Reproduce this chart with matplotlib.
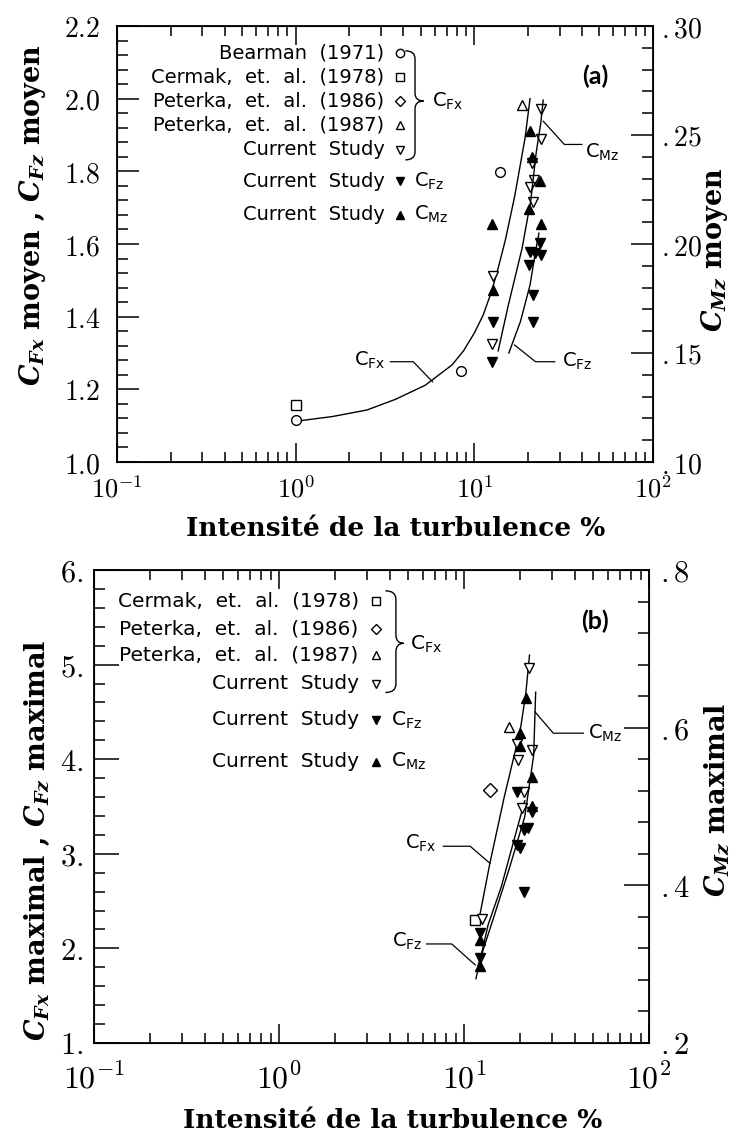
import numpy as np
import matplotlib
matplotlib.use('Agg')
import matplotlib.pyplot as plt
from matplotlib.ticker import MultipleLocator, LogLocator, FuncFormatter, NullFormatter
from matplotlib.path import Path
from matplotlib.patches import PathPatch

plt.rcParams['mathtext.fontset'] = 'cm'
plt.rcParams['font.family'] = ['DejaVu Sans']

# ---------------- panel (a) : valeurs moyennes ----------------
bearman_a_x = [1.0, 8.4, 13.9]
bearman_a_y = [1.115, 1.25, 1.797]
cermak_a_x = [1.0]
cermak_a_y = [1.158]
peterka87_a_x = [18.4]
peterka87_a_y = [1.982]
cfx_a_x = [23.6, 23.6, 20.9, 21.6, 20.5, 21.4, 12.8, 12.5]
cfx_a_y = [1.971, 1.888, 1.823, 1.776, 1.756, 1.716, 1.512, 1.325]
cfz_a_x = [23.3, 20.5, 21.8, 23.5, 20.3, 21.4, 21.4, 12.8, 12.6]
cfz_a_y = [1.603, 1.579, 1.575, 1.570, 1.542, 1.460, 1.386, 1.386, 1.276]
cmz_a_x = [20.5, 20.9, 23.3, 20.3, 12.5, 23.5, 12.8]
cmz_a_y = [0.252, 0.240, 0.229, 0.216, 0.209, 0.209, 0.179]

fit_cfx_a_x = [1.0, 1.6, 2.5, 3.6, 5.3, 7.5, 8.7, 10.0, 11.2, 12.5, 13.7, 14.9, 16.8, 19.2, 20.5]
fit_cfx_a_y = [1.112, 1.125, 1.143, 1.172, 1.211, 1.267, 1.306, 1.355, 1.404, 1.47, 1.54,
               1.61, 1.73, 1.89, 2.00]
fit_cfz_a_x = [15.6, 18.1, 20.5, 22.0, 23.0]
fit_cfz_a_y = [1.30, 1.386, 1.487, 1.579, 1.63]
fit_cmz_a_x = [13.6, 15.5, 18.5, 20.7, 22.2, 23.5, 24.3]
fit_cmz_a_y = [0.151, 0.172, 0.198, 0.220, 0.242, 0.255, 0.266]

# ---------------- panel (b) : valeurs maximales ----------------
cermak_b_x = [11.5]
cermak_b_y = [2.30]
peterka86_b_x = [13.8]
peterka86_b_y = [3.67]
peterka87_b_x = [17.4]
peterka87_b_y = [4.344]
cfx_b_x = [22.5, 19.3, 23.2, 19.7, 21.1, 20.5, 12.5]
cfx_b_y = [4.96, 4.161, 4.097, 3.992, 3.656, 3.481, 2.31]
cfz_b_x = [19.3, 23.2, 21.0, 22.2, 19.3, 20.1, 21.0, 12.2, 12.2]
cfz_b_y = [3.656, 3.445, 3.252, 3.27, 3.093, 3.058, 2.60, 2.160, 1.895]
cmz_b_x = [21.6, 20.1, 20.1, 23.2, 23.2, 12.2, 12.2]
cmz_b_y = [0.638, 0.593, 0.577, 0.538, 0.5005, 0.3305, 0.2975]

fit_cfx_b_x = [11.9, 13.8, 16.5, 19.0, 20.3, 21.6, 22.6]
fit_cfx_b_y = [2.25, 2.90, 3.60, 4.10, 4.35, 4.70, 5.10]
fit_cfz_b_x = [11.6, 13.5, 15.9, 18.9, 21.3]
fit_cfz_b_y = [1.68, 2.25, 2.65, 3.19, 3.56]
fit_cmz_b_x = [11.9, 14.5, 17.5, 21.3, 23.8, 24.4]
fit_cmz_b_y = [0.298, 0.36, 0.42, 0.487, 0.565, 0.645]

W, H = 747, 1135
fig = plt.figure(figsize=(W / 100, H / 100), dpi=100)
fig.patch.set_facecolor('white')

label_font = dict(fontfamily='DejaVu Serif', fontweight='bold', math_fontfamily='dejavuserif')


def log_x(ax, size, pad):
    ax.set_xscale('log')
    ax.set_xlim(0.1, 100)
    ax.xaxis.set_major_locator(LogLocator(base=10, numticks=10))
    ax.xaxis.set_minor_locator(LogLocator(base=10, subs=np.arange(2, 10), numticks=20))
    ax.xaxis.set_major_formatter(FuncFormatter(lambda v, p: r'$10^{%d}$' % round(np.log10(v))))
    ax.xaxis.set_minor_formatter(NullFormatter())
    ax.tick_params(axis='x', which='both', direction='in', top=True, bottom=True,
                   width=1.1, labelsize=size, pad=pad)
    ax.tick_params(axis='x', which='major', length=14)
    ax.tick_params(axis='x', which='minor', length=7)
    for s in ax.spines.values():
        s.set_linewidth(1.3)


def brace(ax, x_end, x_mid, x_tip, y_top, y_tip, y_bot, r=0.018):
    verts = [(x_end, y_top), (x_mid, y_top), (x_mid, y_top - r),
             (x_mid, y_tip + r), (x_mid, y_tip), (x_tip, y_tip),
             (x_tip, y_tip), (x_mid, y_tip), (x_mid, y_tip - r),
             (x_mid, y_bot + r), (x_mid, y_bot), (x_end, y_bot)]
    codes = [Path.MOVETO, Path.CURVE3, Path.CURVE3,
             Path.LINETO, Path.CURVE3, Path.CURVE3,
             Path.MOVETO, Path.CURVE3, Path.CURVE3,
             Path.LINETO, Path.CURVE3, Path.CURVE3]
    ax.add_patch(PathPatch(Path(verts, codes), transform=ax.transAxes, fill=False,
                           lw=1.0, clip_on=False))


def legend_row(ax, y, text, marker, filled, x_text, x_mark, fs, extra=None, x_extra=None):
    ax.text(x_text, y, text, transform=ax.transAxes, ha='right', va='center', fontsize=fs)
    ax.plot([x_mark], [y], marker=marker, ms=6 if marker != 'D' else 5.5, ls='none',
            mfc='black' if filled else 'white', mec='black', mew=1.0,
            transform=ax.transAxes, clip_on=False)
    if extra:
        ax.text(x_extra, y, extra, transform=ax.transAxes, ha='left', va='center', fontsize=fs)


open_kw = dict(ls='none', mfc='white', mec='black', mew=1.0)
fill_kw = dict(ls='none', mfc='black', mec='black', mew=1.0)

# ================= (a) =================
axA = fig.add_axes([117 / W, 1 - 462 / H, 536 / W, 436 / H])
axA2 = axA.twinx()
log_x(axA, 19, 11)
axA.set_ylim(1.0, 2.2)
axA.yaxis.set_major_locator(MultipleLocator(0.2))
axA.yaxis.set_minor_locator(MultipleLocator(0.04))
axA.yaxis.set_major_formatter(FuncFormatter(lambda v, p: r'$%.1f$' % v))
axA.tick_params(axis='y', which='both', direction='in', width=1.1, labelsize=20, pad=12)
axA.tick_params(axis='y', which='major', length=16)
axA.tick_params(axis='y', which='minor', length=8)
axA2.set_ylim(0.10, 0.30)
axA2.yaxis.set_major_locator(MultipleLocator(0.05))
axA2.yaxis.set_minor_locator(MultipleLocator(0.01))
axA2.yaxis.set_major_formatter(FuncFormatter(lambda v, p: r'$.%02d$' % round(v * 100)))
axA2.tick_params(axis='y', which='both', direction='in', width=1.1, labelsize=20, pad=6)
axA2.tick_params(axis='y', which='major', length=16)
axA2.tick_params(axis='y', which='minor', length=8)

axA.plot(fit_cfx_a_x, fit_cfx_a_y, 'k-', lw=1.0)
axA.plot(fit_cfz_a_x, fit_cfz_a_y, 'k-', lw=1.0)
axA2.plot(fit_cmz_a_x, fit_cmz_a_y, 'k-', lw=1.0)

axA.plot(bearman_a_x, bearman_a_y, 'o', ms=7, **open_kw)
axA.plot(cermak_a_x, cermak_a_y, 's', ms=6.5, **open_kw)
axA.plot(peterka87_a_x, peterka87_a_y, '^', ms=7, **open_kw)
axA.plot(cfx_a_x, cfx_a_y, 'v', ms=7, **open_kw)
axA.plot(cfz_a_x, cfz_a_y, 'v', ms=7, **fill_kw)
axA2.plot(cmz_a_x, cmz_a_y, '^', ms=7, **fill_kw)

# curve labels
axA.plot([3.39, 4.55, 5.83], [1.276, 1.276, 1.221], 'k-', lw=0.9)
axA.text(2.12, 1.28, r'$\mathregular{C_{Fx}}$', fontsize=14, va='center', ha='left')
axA.plot([16.8, 22.0, 28.2], [1.322, 1.276, 1.276], 'k-', lw=0.9)
axA.text(31.0, 1.278, r'$\mathregular{C_{Fz}}$', fontsize=14, va='center', ha='left')
axA.plot([24.3, 31.9, 40.0], [1.938, 1.874, 1.874], 'k-', lw=0.9)
axA.text(41.5, 1.851, r'$\mathregular{C_{Mz}}$', fontsize=14, va='center', ha='left')

# legend
fsA = 14
legend_row(axA, 0.939, 'Bearman  (1971)', 'o', False, 0.499, 0.528, fsA)
legend_row(axA, 0.883, 'Cermak,  et.  al.  (1978)', 's', False, 0.499, 0.528, fsA)
legend_row(axA, 0.828, 'Peterka,  et.  al.  (1986)', 'D', False, 0.499, 0.528, fsA)
legend_row(axA, 0.772, 'Peterka,  et.  al.  (1987)', '^', False, 0.499, 0.528, fsA)
legend_row(axA, 0.716, 'Current  Study', 'v', False, 0.499, 0.528, fsA)
legend_row(axA, 0.644, 'Current  Study', 'v', True, 0.499, 0.528, fsA,
           r'$\mathregular{C_{Fz}}$', 0.555)
legend_row(axA, 0.567, 'Current  Study', '^', True, 0.499, 0.528, fsA,
           r'$\mathregular{C_{Mz}}$', 0.555)
brace(axA, 0.538, 0.556, 0.572, 0.943, 0.828, 0.693)
axA.text(0.588, 0.828, r'$\mathregular{C_{Fx}}$', transform=axA.transAxes, fontsize=fsA,
         ha='left', va='center')
axA.text(0.892, 0.885, '(a)', transform=axA.transAxes, fontsize=18, fontweight='bold',
         fontfamily=['Lato', 'DejaVu Sans'], ha='center', va='center')

# ================= (b) =================
axB = fig.add_axes([94 / W, 1 - 1043 / H, 555 / W, 473 / H])
axB2 = axB.twinx()
log_x(axB, 23, 15)
axB.set_ylim(1.0, 6.0)
axB.yaxis.set_major_locator(MultipleLocator(1))
axB.yaxis.set_minor_locator(MultipleLocator(0.2))
axB.yaxis.set_major_formatter(FuncFormatter(lambda v, p: r'$%d.$' % round(v)))
axB.tick_params(axis='y', which='both', direction='in', width=1.1, labelsize=22, pad=8)
axB.tick_params(axis='y', which='major', length=18)
axB.tick_params(axis='y', which='minor', length=8)
axB2.set_ylim(0.2, 0.8)
axB2.yaxis.set_major_locator(MultipleLocator(0.2))
axB2.yaxis.set_minor_locator(MultipleLocator(0.04))
axB2.yaxis.set_major_formatter(FuncFormatter(lambda v, p: r'$.%d$' % round(v * 10)))
axB2.tick_params(axis='y', which='both', direction='in', width=1.1, labelsize=22, pad=8)
axB2.tick_params(axis='y', which='major', length=18)
axB2.tick_params(axis='y', which='minor', length=8)

axB.plot(fit_cfx_b_x, fit_cfx_b_y, 'k-', lw=1.0)
axB.plot(fit_cfz_b_x, fit_cfz_b_y, 'k-', lw=1.0)
axB2.plot(fit_cmz_b_x, fit_cmz_b_y, 'k-', lw=1.0)

axB.plot(cermak_b_x, cermak_b_y, 's', ms=6.5, **open_kw)
axB.plot(peterka86_b_x, peterka86_b_y, 'D', ms=7, **open_kw)
axB.plot(peterka87_b_x, peterka87_b_y, '^', ms=7, **open_kw)
axB.plot(cfx_b_x, cfx_b_y, 'v', ms=7, **open_kw)
axB.plot(cfz_b_x, cfz_b_y, 'v', ms=7, **fill_kw)
axB2.plot(cmz_b_x, cmz_b_y, '^', ms=7, **fill_kw)

axB.plot([7.73, 10.8, 13.8], [3.08, 3.08, 2.90], 'k-', lw=0.9)
axB.text(4.8, 3.11, r'$\mathregular{C_{Fx}}$', fontsize=14, va='center', ha='left')
axB.plot([6.28, 8.58, 11.5], [2.047, 2.047, 1.825], 'k-', lw=0.9)
axB.text(4.06, 2.07, r'$\mathregular{C_{Fz}}$', fontsize=14, va='center', ha='left')
axB2.plot([24.2, 30.4, 44.2], [0.620, 0.593, 0.593], 'k-', lw=0.9)
axB2.text(47.0, 0.593, r'$\mathregular{C_{Mz}}$', fontsize=14, va='center', ha='left')

fsB = 14.5
legend_row(axB, 0.934, 'Cermak,  et.  al.  (1978)', 's', False, 0.477, 0.508, fsB)
legend_row(axB, 0.876, 'Peterka,  et.  al.  (1986)', 'D', False, 0.477, 0.508, fsB)
legend_row(axB, 0.821, 'Peterka,  et.  al.  (1987)', '^', False, 0.477, 0.508, fsB)
legend_row(axB, 0.759, 'Current  Study', 'v', False, 0.477, 0.508, fsB)
legend_row(axB, 0.683, 'Current  Study', 'v', True, 0.477, 0.508, fsB,
           r'$\mathregular{C_{Fz}}$', 0.535)
legend_row(axB, 0.595, 'Current  Study', '^', True, 0.477, 0.508, fsB,
           r'$\mathregular{C_{Mz}}$', 0.535)
brace(axB, 0.525, 0.544, 0.558, 0.956, 0.845, 0.741)
axB.text(0.570, 0.843, r'$\mathregular{C_{Fx}}$', transform=axB.transAxes, fontsize=fsB,
         ha='left', va='center')
axB.text(0.903, 0.891, '(b)', transform=axB.transAxes, fontsize=18, fontweight='bold',
         fontfamily=['Lato', 'DejaVu Sans'], ha='center', va='center')

# ================= axis titles =================
xl = 'Intensité de la turbulence %'
fig.text(396 / W, 1 - 528 / H, xl, fontsize=19, ha='center', va='center', **label_font)
fig.text(393 / W, 1 - 1120 / H, xl, fontsize=19, ha='center', va='center', **label_font)
fig.text(33 / W, 1 - 215 / H, r'$\mathbfit{C_{Fx}}$ moyen , $\mathbfit{C_{Fz}}$ moyen',
         rotation=90, fontsize=19.5, ha='center', va='center', **label_font)
fig.text(714 / W, 1 - 250 / H, r'$\mathbfit{C_{Mz}}$ moyen',
         rotation=90, fontsize=19.5, ha='center', va='center', **label_font)
fig.text(37 / W, 1 - 840 / H, r'$\mathbfit{C_{Fx}}$ maximal , $\mathbfit{C_{Fz}}$ maximal',
         rotation=90, fontsize=19.5, ha='center', va='center', **label_font)
fig.text(717 / W, 1 - 800 / H, r'$\mathbfit{C_{Mz}}$ maximal',
         rotation=90, fontsize=19.5, ha='center', va='center', **label_font)

fig.savefig('out.png', dpi=100, facecolor='white')
